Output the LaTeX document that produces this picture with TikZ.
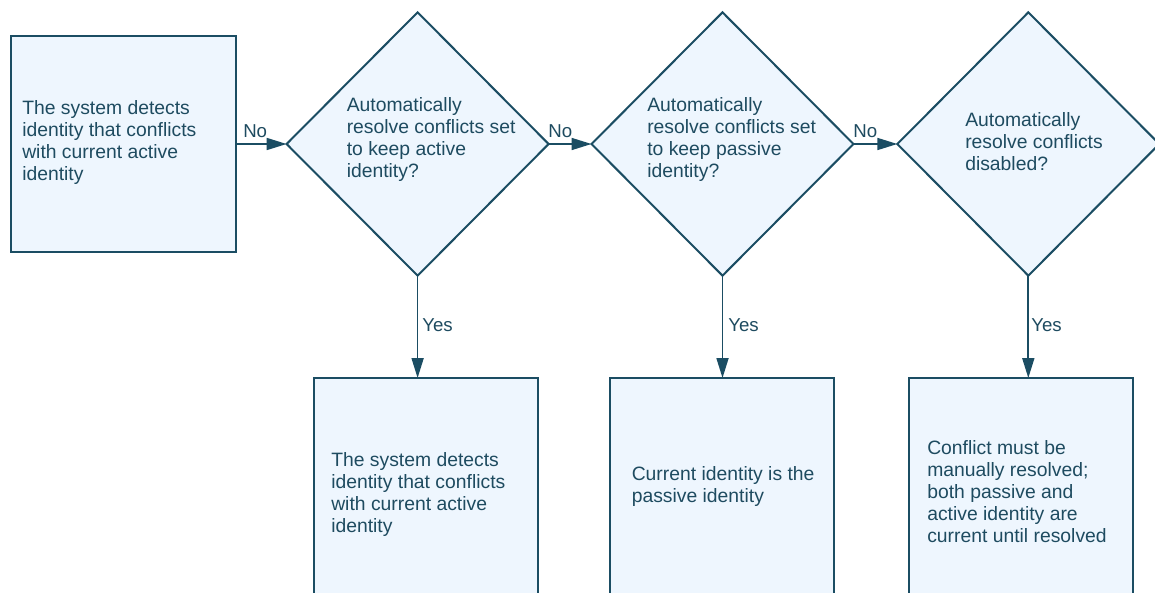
\documentclass[tikz,border=0pt]{standalone}
\usepackage{fontspec}
\setmainfont{Liberation Sans}
\usetikzlibrary{shapes.geometric,arrows.meta}
\definecolor{edge}{HTML}{1B4D63}
\definecolor{ink}{HTML}{1E4B60}
\definecolor{paper}{HTML}{EEF6FE}
\tikzset{
  boxnode/.style={draw=edge, fill=paper, line width=1.5pt, rectangle, outer sep=0pt, inner sep=0pt},
  decnode/.style={draw=edge, fill=paper, line width=1.5pt, diamond, outer sep=0pt, inner sep=0pt,
                  minimum width=196.5pt, minimum height=197.5pt},
  txt/.style={anchor=base west, inner sep=0pt, align=left, text=ink,
              font=\fontsize{14.5}{16.5}\selectfont},
  lbl/.style={anchor=base west, inner sep=0pt, text=ink, font=\fontsize{14}{16.5}\selectfont},
  flow/.style={draw=edge, line width=1.3pt, -{Triangle[length=15pt,width=9pt]}}
}
\begin{document}
\begin{tikzpicture}[x=0.75pt,y=-0.75pt]
\useasboundingbox (0,0) rectangle (1155,592);
\clip (0,0) rectangle (1155,592);
\fill[white] (0,0) rectangle (1155,592);
% shapes
\node[boxnode, minimum width=168.75pt, minimum height=161.25pt] (b0) at (123,144) {};
\node[decnode] (d1) at (417.6,144) {};
\node[decnode] (d2) at (722.5,144) {};
\node[decnode] (d3) at (1028.3,144) {};
\node[boxnode, minimum width=168pt, minimum height=170.25pt] (b1) at (425.7,491.5) {};
\node[boxnode, minimum width=168pt, minimum height=170.25pt] (b2) at (722.4,491.5) {};
\node[boxnode, minimum width=168pt, minimum height=170.25pt] (b3) at (1020.5,491.5) {};
% texts (base anchor = baseline of the last line)
\node[txt] (t0) at (22,180) {The system detects\\identity that conflicts\\with current active\\identity};
\node[txt] (t1) at (346.5,177.5) {Automatically\\resolve conflicts set\\to keep active\\identity?};
\node[txt] (t2) at (647,177.5) {Automatically\\resolve conflicts set\\to keep passive\\identity?};
\node[txt] (t3) at (965,170) {Automatically\\resolve conflicts\\disabled?};
\node[txt] (t4) at (331,532.5) {The system detects\\identity that conflicts\\with current active\\identity};
\node[txt] (t5) at (631.5,502) {Current identity is the\\passive identity};
\node[txt] (t6) at (927,542.5) {Conflict must be\\manually resolved;\\both passive and\\active identity are\\current until resolved};
% connectors
\draw[flow] (b0.east) -- (d1.west);
\draw[flow] (d1.east) -- (d2.west);
\draw[flow] (d2.east) -- (d3.west);
\draw[flow] (d1.south) -- (d1.south |- b1.north);
\draw[flow] (d2.south) -- (d2.south |- b2.north);
\draw[flow] (d3.south) -- (d3.south |- b3.north);
% labels
\node[lbl] (n1) at (243,137) {No};
\node[lbl] (n2) at (548,137) {No};
\node[lbl] (n3) at (853,137) {No};
\node[lbl] (y1) at (422,331) {Yes};
\node[lbl] (y2) at (728,331) {Yes};
\node[lbl] (y3) at (1031,331) {Yes};
\end{tikzpicture}
\end{document}
